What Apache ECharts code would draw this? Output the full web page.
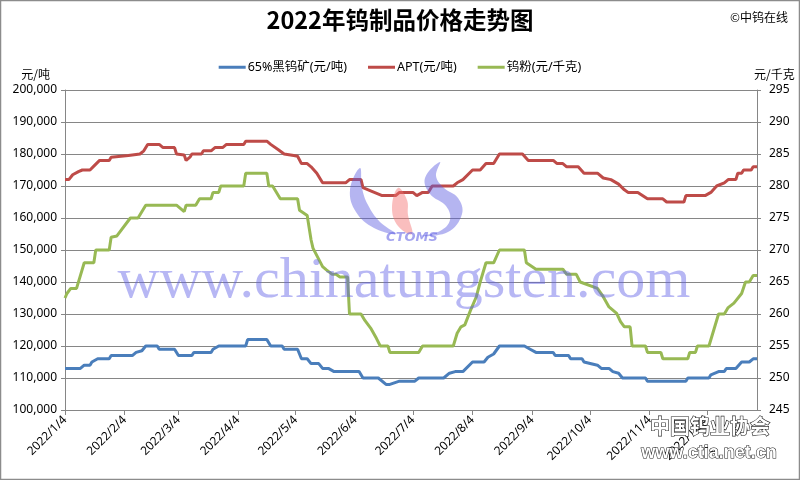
<!DOCTYPE html>
<html><head><meta charset="utf-8">
<script src="https://cdn.jsdelivr.net/npm/echarts@6/dist/echarts.min.js"></script>
<style>html,body{margin:0;padding:0;background:#fff}#c{width:800px;height:480px}</style>
</head><body><div id="c"></div>
<script>
const titleText = '2022年钨制品价格走势图';
const seriesNames = ['65%黑钨矿(元/吨)', 'APT(元/吨)', '钨粉(元/千克)'];
const tickLabels = ['2022/1/4','2022/2/4','2022/3/4','2022/4/4','2022/5/4','2022/6/4','2022/7/4','2022/8/4','2022/9/4','2022/10/4','2022/11/4','2022/12/4'];
const xStart = '2022/1/4';
const xEnd = '2022/12/30';

const ore = [['2022-01-04',113000],['2022-01-12',113000],['2022-01-14',114000],['2022-01-17',114000],['2022-01-18',115000],['2022-01-21',116000],['2022-01-27',116000],['2022-01-28',117000],['2022-02-08',117000],['2022-02-10',118000],['2022-02-13',118500],['2022-02-15',120000],['2022-02-21',120000],['2022-02-22',119000],['2022-03-02',119000],['2022-03-04',117000],['2022-03-11',117000],['2022-03-12',118000],['2022-03-21',118000],['2022-03-22',119000],['2022-03-25',120000],['2022-04-08',120000],['2022-04-09',122000],['2022-04-19',122000],['2022-04-21',120000],['2022-04-27',120000],['2022-04-28',119000],['2022-05-05',119000],['2022-05-07',116000],['2022-05-10',116000],['2022-05-12',114500],['2022-05-16',114500],['2022-05-18',113000],['2022-05-21',113000],['2022-05-24',112000],['2022-06-06',112000],['2022-06-08',110000],['2022-06-16',110000],['2022-06-20',108000],['2022-06-22',108000],['2022-06-27',109000],['2022-07-05',109000],['2022-07-07',110000],['2022-07-20',110000],['2022-07-23',111500],['2022-07-26',112000],['2022-07-30',112000],['2022-08-04',115000],['2022-08-10',115000],['2022-08-12',116500],['2022-08-15',117500],['2022-08-18',120000],['2022-08-31',120000],['2022-09-03',119000],['2022-09-06',118000],['2022-09-15',118000],['2022-09-16',117000],['2022-09-23',117000],['2022-09-24',116000],['2022-09-30',116000],['2022-10-01',115000],['2022-10-08',114000],['2022-10-10',113000],['2022-10-14',113000],['2022-10-16',112000],['2022-10-19',111500],['2022-10-21',110000],['2022-11-02',110000],['2022-11-03',109000],['2022-11-23',109000],['2022-11-24',110000],['2022-12-05',110000],['2022-12-06',111000],['2022-12-10',112000],['2022-12-13',112000],['2022-12-14',113000],['2022-12-19',113000],['2022-12-22',115000],['2022-12-26',115000],['2022-12-28',116000],['2022-12-30',116000]];

const apt = [['2022-01-04',172000],['2022-01-06',172000],['2022-01-08',173500],['2022-01-11',174500],['2022-01-13',175000],['2022-01-17',175000],['2022-01-19',176200],['2022-01-22',178000],['2022-01-27',178000],['2022-01-28',179000],['2022-02-06',179500],['2022-02-12',180000],['2022-02-14',181000],['2022-02-16',183000],['2022-02-22',183000],['2022-02-24',182000],['2022-03-02',182000],['2022-03-03',180000],['2022-03-07',179700],['2022-03-08',178000],['2022-03-10',179000],['2022-03-11',180000],['2022-03-16',180000],['2022-03-17',181000],['2022-03-21',181000],['2022-03-23',182000],['2022-03-27',182000],['2022-03-29',183000],['2022-04-07',183000],['2022-04-08',184000],['2022-04-19',184000],['2022-04-21',183000],['2022-04-25',181300],['2022-04-28',180000],['2022-05-03',179500],['2022-05-05',179300],['2022-05-07',177000],['2022-05-10',177000],['2022-05-12',176000],['2022-05-15',174000],['2022-05-18',171000],['2022-05-30',171000],['2022-06-01',172000],['2022-06-07',172000],['2022-06-08',169500],['2022-06-12',168500],['2022-06-18',167000],['2022-06-25',167000],['2022-06-27',168000],['2022-07-04',168000],['2022-07-06',167000],['2022-07-09',168000],['2022-07-12',168000],['2022-07-14',170000],['2022-07-25',170000],['2022-07-27',171000],['2022-07-30',172000],['2022-08-04',175000],['2022-08-08',175000],['2022-08-11',177000],['2022-08-15',177000],['2022-08-18',180000],['2022-08-30',180000],['2022-09-02',178000],['2022-09-15',178000],['2022-09-17',177000],['2022-09-20',177000],['2022-09-22',176000],['2022-09-28',176000],['2022-10-01',174000],['2022-10-08',174000],['2022-10-11',172500],['2022-10-15',172000],['2022-10-19',170600],['2022-10-22',168800],['2022-10-24',168000],['2022-10-29',168000],['2022-11-03',166000],['2022-11-11',166000],['2022-11-13',165000],['2022-11-22',165000],['2022-11-23',167000],['2022-12-03',167000],['2022-12-06',168000],['2022-12-09',170000],['2022-12-13',171000],['2022-12-15',172000],['2022-12-19',172000],['2022-12-20',174000],['2022-12-22',174000],['2022-12-23',175000],['2022-12-27',175000],['2022-12-28',176000],['2022-12-30',176000]];

const powder = [['2022-01-04',262.5],['2022-01-05',263.2],['2022-01-07',264],['2022-01-10',264],['2022-01-12',266],['2022-01-14',268],['2022-01-19',268],['2022-01-20',270],['2022-01-27',270],['2022-01-28',272],['2022-01-31',272.2],['2022-02-07',275],['2022-02-11',275],['2022-02-15',277],['2022-03-03',277],['2022-03-07',276],['2022-03-08',277],['2022-03-13',277],['2022-03-15',278],['2022-03-21',278],['2022-03-22',279],['2022-03-25',279],['2022-03-26',280],['2022-04-07',280],['2022-04-08',282],['2022-04-19',282],['2022-04-20',280],['2022-04-22',280],['2022-04-26',278],['2022-05-05',278],['2022-05-06',276.2],['2022-05-10',275.4],['2022-05-12',271.6],['2022-05-13',270.3],['2022-05-18',267.4],['2022-05-20',266.9],['2022-05-23',266.2],['2022-05-25',266.2],['2022-05-27',265.8],['2022-05-31',265.8],['2022-06-01',260],['2022-06-07',260],['2022-06-09',259],['2022-06-12',257.8],['2022-06-15',256.2],['2022-06-17',255],['2022-06-21',255],['2022-06-22',254],['2022-07-07',254],['2022-07-09',255],['2022-07-25',255],['2022-07-27',257],['2022-07-29',258],['2022-07-31',258.3],['2022-08-03',260.6],['2022-08-06',262.7],['2022-08-08',265],['2022-08-11',268],['2022-08-15',268],['2022-08-18',270],['2022-08-31',270],['2022-09-01',268],['2022-09-06',267],['2022-09-20',267],['2022-09-22',266.2],['2022-09-27',266.2],['2022-09-29',265],['2022-10-08',264],['2022-10-11',262.7],['2022-10-14',261.1],['2022-10-18',260.1],['2022-10-20',258.8],['2022-10-22',258],['2022-10-25',258],['2022-10-26',255],['2022-11-02',255],['2022-11-03',254],['2022-11-10',254],['2022-11-11',253],['2022-11-24',253],['2022-11-25',254],['2022-11-28',254],['2022-11-29',255],['2022-12-05',255],['2022-12-07',257],['2022-12-10',260],['2022-12-13',260],['2022-12-15',261],['2022-12-18',261.7],['2022-12-22',263.2],['2022-12-24',265],['2022-12-26',265],['2022-12-28',266],['2022-12-30',266]];

const colors = ['#4a7ebb', '#be4b48', '#98b954'];

function ts(s) { const p = s.split(/[\/-]/).map(Number); return new Date(p[0], p[1] - 1, p[2]).getTime(); }
function fmtDate(v) { const d = new Date(v); return d.getFullYear() + '/' + (d.getMonth() + 1) + '/' + d.getDate(); }
const tickValues = tickLabels.map(ts);
const toXY = arr => arr.map(p => [ts(p[0]), p[1]]);

const chart = echarts.init(document.getElementById('c'));
const FONT = '"Noto Sans", "Noto Sans CJK SC", sans-serif';
const grid = '#868686';
chart.setOption({
  animation: false,
  color: colors,
  textStyle: { fontFamily: FONT },
  title: {
    text: titleText, left: 'center', top: 3,
    textStyle: { fontFamily: '"Noto Sans CJK SC", sans-serif', fontSize: 23.5, fontWeight: 'bold', color: '#000' }
  },
  legend: {
    top: 56, left: 'center', itemWidth: 27, itemHeight: 3, itemGap: 21, icon: 'rect',
    textStyle: { fontFamily: FONT, fontSize: 12.5, color: '#000', padding: [0, 0, 0, -3] },
    data: seriesNames
  },
  grid: { left: 65, right: 43, top: 90, bottom: 70, containLabel: false },
  xAxis: {
    type: 'value', min: ts(xStart), max: ts(xEnd),
    axisLine: { show: true, onZero: false, lineStyle: { color: grid, width: 1 } },
    axisTick: { show: true, customValues: tickValues, length: 5, lineStyle: { color: grid } },
    axisLabel: { customValues: tickValues, rotate: 45, fontSize: 12, color: '#000', margin: 8, formatter: fmtDate, fontFamily: FONT },
    splitLine: { show: false }
  },
  yAxis: [{
    type: 'value', min: 100000, max: 200000, interval: 10000,
    name: '元/吨', nameLocation: 'end', nameGap: 10,
    nameTextStyle: { align: 'right', padding: [0, 15, 0, 0], fontSize: 12, color: '#000', fontFamily: '"Noto Sans CJK SC", sans-serif' },
    axisLine: { show: true, lineStyle: { color: grid } },
    axisTick: { show: true, inside: false, length: 4, lineStyle: { color: grid } },
    axisLabel: { fontSize: 12, color: '#000', margin: 8, formatter: v => v.toLocaleString('en-US') },
    splitLine: { show: true, lineStyle: { color: grid, width: 1 } }
  }, {
    type: 'value', min: 245, max: 295, interval: 5, position: 'right',
    name: '元/千克', nameLocation: 'end', nameGap: 10,
    nameTextStyle: { align: 'left', padding: [0, 0, 0, -3], fontSize: 12, color: '#000', fontFamily: '"Noto Sans CJK SC", sans-serif' },
    axisLine: { show: true, lineStyle: { color: grid } },
    axisTick: { show: true, inside: false, length: 4, lineStyle: { color: grid } },
    axisLabel: { fontSize: 12, color: '#000', margin: 12 },
    splitLine: { show: false }
  }],
  series: [
    { name: seriesNames[0], type: 'line', yAxisIndex: 0, data: toXY(ore), showSymbol: false, symbol: 'none', lineStyle: { width: 3, color: colors[0] }, z: 3 },
    { name: seriesNames[1], type: 'line', yAxisIndex: 0, data: toXY(apt), showSymbol: false, symbol: 'none', lineStyle: { width: 3, color: colors[1] }, z: 3 },
    { name: seriesNames[2], type: 'line', yAxisIndex: 1, data: toXY(powder), showSymbol: false, symbol: 'none', lineStyle: { width: 3, color: colors[2] }, z: 3 }
  ],
  graphic: [
    { type: 'rect', shape: { x: 0.5, y: 0.5, width: 799, height: 479 }, style: { fill: 'none', stroke: '#8c8c8c', lineWidth: 1.5 }, z: 100, silent: true },
    { type: 'text', x: 788, y: 17, style: { text: '©中钨在线', font: '12px "Noto Sans CJK SC", sans-serif', fill: '#000', align: 'right', verticalAlign: 'middle' }, z: 100 },
    { type: 'polygon', shape: { smooth: 0.4, points: [[360,168],[350,190],[356,212],[374,228],[396,234],[380,222],[368,205],[362,188]] }, style: { fill: 'rgba(90,90,225,0.45)' }, z: 50, silent: true },
    { type: 'polygon', shape: { smooth: 0.4, points: [[440,162],[425,178],[430,194],[446,206],[450,220],[440,231],[420,236],[448,232],[462,214],[458,198],[444,188],[436,176]] }, style: { fill: 'rgba(90,90,225,0.45)' }, z: 50, silent: true },
    { type: 'polygon', shape: { smooth: 0.4, points: [[398,188],[407,200],[408,215],[412,234],[398,226],[392,208]] }, style: { fill: 'rgba(245,110,110,0.45)' }, z: 50, silent: true },
    { type: 'text', x: 412, y: 238, style: { text: 'CTOMS', font: 'italic bold 13px "DejaVu Sans", sans-serif', fill: 'rgba(90,90,225,0.55)', align: 'center', verticalAlign: 'middle' }, z: 50, silent: true },
    { type: 'text', x: 404, y: 282, style: { text: 'www.chinatungsten.com', font: '58px "Liberation Serif", serif', fill: 'rgba(95,95,230,0.45)', align: 'center', verticalAlign: 'middle' }, z: 50, silent: true },
    { type: 'text', x: 710, y: 426, style: { text: '中国钨业协会', font: 'bold 20px "Noto Sans CJK SC", sans-serif', fill: '#fff', stroke: '#222', lineWidth: 1.2, align: 'center', verticalAlign: 'middle' }, z: 60, silent: true },
    { type: 'text', x: 709, y: 453, style: { text: 'www.ctia.net.cn', font: 'bold 18px "Liberation Sans", sans-serif', fill: '#fff', stroke: '#222', lineWidth: 1.1, align: 'center', verticalAlign: 'middle' }, z: 60, silent: true }
  ]
});
</script></body></html>
